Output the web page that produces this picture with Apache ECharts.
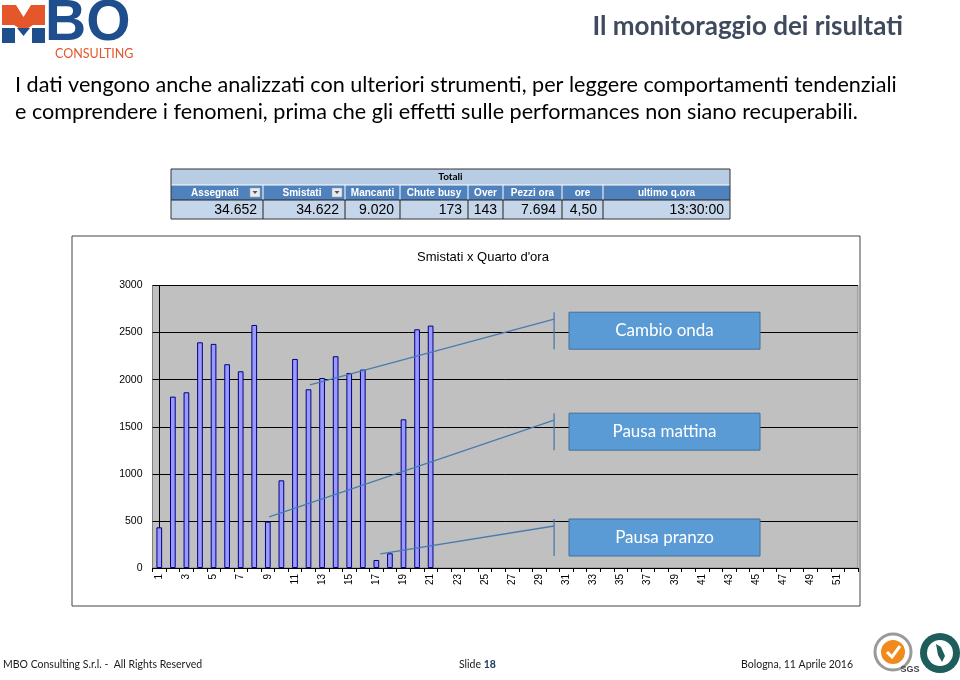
<!DOCTYPE html>
<html><head><meta charset="utf-8">
<script src="https://cdn.jsdelivr.net/npm/echarts@6/dist/echarts.min.js"></script>
<style>html,body{margin:0;padding:0;background:#fff}#c{width:960px;height:680px}</style>
</head><body><div id="c"></div>
<script>
// ---- data ----
const categories = ['1','2','3','4','5','6','7','8','9','10','11','12','13','14','15','16','17','18','19','20','21','22','23','24','25','26','27','28','29','30','31','32','33','34','35','36','37','38','39','40','41','42','43','44','45','46','47','48','49','50','51','52'];
const smistati = [432,1820,1866,2397,2380,2164,2089,2581,492,931,2220,1898,2018,2249,2071,2107,85,156,1579,2535,2574,null,null,null,null,null,null,null,null,null,null,null,null,null,null,null,null,null,null,null,null,null,null,null,null,null,null,null,null,null,null,null];
const yTicks = {min:0, max:3000, interval:500};
const tableTitle = 'Totali';
const tableHeaders = ['Assegnati','Smistati','Mancanti','Chute busy','Over','Pezzi ora','ore','ultimo q.ora'];
const tableValues = ['34.652','34.622','9.020','173','143','7.694','4,50','13:30:00'];
const calloutLabels = ['Cambio onda','Pausa mattina','Pausa pranzo'];
// callout line anchors in data space: [categoryPosition, value] start -> end
const calloutStart = [[11.1,1945],[8.1,544],[16.3,149]];
const calloutEnd = [[29.1,2642],[29.1,1570],[29.1,446]];

// ---- layout ----
const chart = echarts.init(document.getElementById('c'));
const colEdges = [171,263,345,400,468,503,562,603,730];
const FONT = "Lato, 'Open Sans', sans-serif";
const AR = "'Liberation Sans', Arial, sans-serif";

function tableGraphics(){
  const g = [];
  const L = colEdges[0], R = colEdges[colEdges.length-1];
  g.push({type:'rect', shape:{x:L,y:169,width:R-L,height:16}, style:{fill:'#B8CCE4'}});
  g.push({type:'text', style:{text:tableTitle, x:(L+R)/2, y:177, align:'center', verticalAlign:'middle', font:"bold 10px "+FONT, fill:'#000'}});
  g.push({type:'rect', shape:{x:L,y:185,width:R-L,height:15}, style:{fill:'#4F81BD'}});
  g.push({type:'rect', shape:{x:L,y:200,width:R-L,height:19}, style:{fill:'#C5D5EA'}});
  for(let i=0;i<tableHeaders.length;i++){
    const a=colEdges[i], b=colEdges[i+1];
    const hasIcon = i<2;
    g.push({type:'text', style:{text:tableHeaders[i], x:(a+b)/2+(hasIcon?-2:0), y:193, align:'center', verticalAlign:'middle', font:"bold 10px "+AR, fill:'#fff'}});
    if(hasIcon){
      g.push({type:'rect', shape:{x:b-13,y:188,width:10,height:9}, style:{fill:'#E8EAEE', stroke:'#9AA5B5', lineWidth:0.5}});
      g.push({type:'polygon', shape:{points:[[b-10.5,191],[b-5.5,191],[b-8,194]]}, style:{fill:'#555'}});
    }
    g.push({type:'text', style:{text:tableValues[i], x:b-6, y:210.5, align:'right', verticalAlign:'middle', font:"14px "+AR, fill:'#000'}});
    if(i>0){
      g.push({type:'line', shape:{x1:a,y1:185,x2:a,y2:200}, style:{stroke:'#fff', lineWidth:1}});
      g.push({type:'line', shape:{x1:a,y1:200,x2:a,y2:219}, style:{stroke:'#222', lineWidth:1}});
    }
  }
  g.push({type:'line', shape:{x1:L,y1:185,x2:R,y2:185}, style:{stroke:'#fff', lineWidth:1}});
  g.push({type:'line', shape:{x1:L,y1:200,x2:R,y2:200}, style:{stroke:'#222', lineWidth:1}});
  g.push({type:'rect', shape:{x:L,y:169,width:R-L,height:50}, style:{fill:null, stroke:'#333', lineWidth:1}});
  return g;
}

function logoGraphics(){
  const O='#E5562A', B='#1F4E8C';
  return [
    {type:'polygon', shape:{points:[[2,5],[16,5],[23.5,17],[31,5],[45,5],[45,25],[33,25],[23.5,31],[14,25],[2,25]]}, style:{fill:O}},
    {type:'rect', shape:{x:2,y:28,width:13,height:15}, style:{fill:B}},
    {type:'rect', shape:{x:32,y:28,width:13,height:15}, style:{fill:B}},
    {type:'polygon', shape:{points:[[17,28],[30,28],[23.5,36]]}, style:{fill:B}},
    {type:'text', style:{text:'BO', x:45, y:24, align:'left', verticalAlign:'middle', font:"bold 57px "+AR, fill:B}},
    {type:'text', style:{text:'CONSULTING', x:55, y:54, align:'left', verticalAlign:'middle', font:"12.5px "+FONT, fill:O}}
  ];
}

const baseGraphics = [
  {type:'rect', z:-10, shape:{x:72,y:236,width:788,height:370}, style:{fill:'#fff', stroke:'#444', lineWidth:1}},
  {type:'text', style:{text:'Smistati x Quarto d\'ora', x:483, y:257, align:'center', verticalAlign:'middle', font:"13px "+AR, fill:'#000'}},
  {type:'text', style:{text:'Il monitoraggio dei risultati', x:903, y:27, align:'right', verticalAlign:'middle', font:"bold 26px "+FONT, fill:'#3F4A5C'}},
  {type:'text', style:{text:'I dati vengono anche analizzati con ulteriori strumenti, per leggere comportamenti tendenziali', x:15, y:85, align:'left', verticalAlign:'middle', font:"21.6px "+FONT, fill:'#000'}},
  {type:'text', style:{text:'e comprendere i fenomeni, prima che gli effetti sulle performances non siano recuperabili.', x:15, y:112, align:'left', verticalAlign:'middle', font:"21.6px "+FONT, fill:'#000'}},
  {type:'text', style:{text:'MBO Consulting S.r.l. -  All Rights Reserved', x:3, y:665, align:'left', verticalAlign:'middle', font:"10.5px "+FONT, fill:'#1a1a1a'}},
  {type:'text', style:{rich:{a:{font:"10.5px "+FONT, fill:'#1a1a1a'}, b:{font:"bold 10.5px "+FONT, fill:'#1F3A64'}}, text:'{a|Slide }{b|18}', x:459, y:665, align:'left', verticalAlign:'middle'}},
  {type:'text', style:{text:'Bologna, 11 Aprile 2016', x:853, y:665, align:'right', verticalAlign:'middle', font:"10.5px "+FONT, fill:'#1a1a1a'}},
  // certification badges
  {type:'circle', shape:{cx:893,cy:652,r:18}, style:{fill:'#fff', stroke:'#9A9A9A', lineWidth:3}},
  {type:'circle', shape:{cx:893,cy:652,r:12}, style:{fill:'#F08A1C'}},
  {type:'polyline', shape:{points:[[887,652],[892,657],[900,646]]}, style:{stroke:'#fff', lineWidth:3, fill:null}},
  {type:'text', style:{text:'SGS', x:910, y:670, align:'center', verticalAlign:'middle', font:"bold 9px "+AR, fill:'#444'}},
  {type:'circle', shape:{cx:940,cy:653,r:20}, style:{fill:'#1F5C5C'}},
  {type:'circle', shape:{cx:940,cy:653,r:13}, style:{fill:'#fff'}},
  {type:'polygon', shape:{points:[[936,644],[941,647],[945,656],[942,662],[938,655]]}, style:{fill:'#1F5C5C'}}
].concat(tableGraphics(), logoGraphics());

chart.setOption({
  animation:false,
  grid:{left:152.5, top:285.5, width:705.5, height:282.5, show:true, backgroundColor:'#C0C0C0', borderColor:'#808080', borderWidth:1},
  xAxis:[{
    type:'category', data:categories, boundaryGap:true,
    axisLine:{show:true, lineStyle:{color:'#000', width:1}},
    axisTick:{show:true, interval:0, length:4, lineStyle:{color:'#000'}},
    axisLabel:{interval:1, rotate:90, fontSize:10, fontFamily:AR, color:'#000', margin:6},
    splitLine:{show:false}
  },{
    type:'value', min:-0.5, max:51.5, show:false
  }],
  yAxis:{
    type:'value', min:yTicks.min, max:yTicks.max, interval:yTicks.interval,
    axisLine:{show:true, lineStyle:{color:'#000'}},
    axisTick:{show:true, length:4, lineStyle:{color:'#000'}},
    axisLabel:{fontSize:10.5, fontFamily:AR, color:'#000', margin:10, formatter:(v)=>String(v)},
    splitLine:{show:true, lineStyle:{color:'#000', width:1}}
  },
  series:[{
    type:'bar', data:smistati, xAxisIndex:0, barWidth:'42%',
    itemStyle:{color:'#9999FF', borderColor:'#000080', borderWidth:1}
  }],
  graphic:baseGraphics
});

// callouts positioned through the chart's scales
const extra = [];
const boxX = 569, boxW = 191;
for(let i=0;i<calloutLabels.length;i++){
  const sx = chart.convertToPixel({xAxisIndex:1}, calloutStart[i][0]);
  const sy = chart.convertToPixel({yAxisIndex:0}, calloutStart[i][1]);
  const ex = chart.convertToPixel({xAxisIndex:1}, calloutEnd[i][0]);
  const ey = chart.convertToPixel({yAxisIndex:0}, calloutEnd[i][1]);
  const by = ey - 7;
  extra.push({type:'line', z:100, shape:{x1:sx,y1:sy,x2:ex,y2:ey}, style:{stroke:'#4A7AB0', lineWidth:1.3}});
  extra.push({type:'line', z:100, shape:{x1:ex,y1:by,x2:ex,y2:by+37}, style:{stroke:'#4A7AB0', lineWidth:1.3}});
  extra.push({type:'rect', z:100, shape:{x:boxX,y:by,width:boxW,height:37}, style:{fill:'#5B9BD5', stroke:'#41719C', lineWidth:1}});
  extra.push({type:'text', z:101, style:{text:calloutLabels[i], x:boxX+boxW/2, y:by+18.5, align:'center', verticalAlign:'middle', font:"17px "+FONT, fill:'#fff'}});
}
chart.setOption({graphic:baseGraphics.concat(extra)});
</script>
</body></html>
